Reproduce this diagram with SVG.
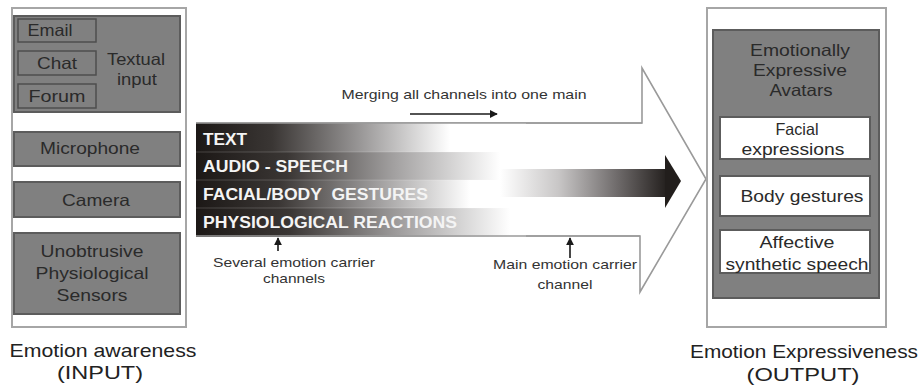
<svg xmlns="http://www.w3.org/2000/svg" width="921" height="387" viewBox="0 0 921 387">
  <defs>
    <linearGradient id="rowFadeA" gradientUnits="userSpaceOnUse" x1="196" y1="0" x2="450" y2="0">
      <stop offset="0" stop-color="#1c1816"/>
      <stop offset="0.3" stop-color="#3a3634"/>
      <stop offset="0.65" stop-color="#9a9898"/>
      <stop offset="1" stop-color="#ffffff"/>
    </linearGradient>
    <linearGradient id="rowFadeB" gradientUnits="userSpaceOnUse" x1="196" y1="0" x2="500" y2="0">
      <stop offset="0" stop-color="#1c1816"/>
      <stop offset="0.3" stop-color="#3a3634"/>
      <stop offset="0.65" stop-color="#a2a0a0"/>
      <stop offset="1" stop-color="#ffffff"/>
    </linearGradient>
    <linearGradient id="rowFadeC" gradientUnits="userSpaceOnUse" x1="196" y1="0" x2="470" y2="0">
      <stop offset="0" stop-color="#1c1816"/>
      <stop offset="0.3" stop-color="#3a3634"/>
      <stop offset="0.65" stop-color="#9c9a9a"/>
      <stop offset="1" stop-color="#ffffff"/>
    </linearGradient>
    <linearGradient id="rowFadeD" gradientUnits="userSpaceOnUse" x1="196" y1="0" x2="510" y2="0">
      <stop offset="0" stop-color="#1c1816"/>
      <stop offset="0.3" stop-color="#3a3634"/>
      <stop offset="0.65" stop-color="#a09e9e"/>
      <stop offset="1" stop-color="#ffffff"/>
    </linearGradient>
    <linearGradient id="mergeFade" gradientUnits="userSpaceOnUse" x1="500" y1="0" x2="668" y2="0">
      <stop offset="0" stop-color="#ffffff"/>
      <stop offset="0.35" stop-color="#c8c6c6"/>
      <stop offset="0.7" stop-color="#6e6a6a"/>
      <stop offset="1" stop-color="#221e1c"/>
    </linearGradient>
    <marker id="tip" viewBox="0 0 10 10" refX="9" refY="5" markerWidth="8" markerHeight="8" markerUnits="userSpaceOnUse" orient="auto">
      <path d="M0,0 L10,5 L0,10 Z" fill="#1a1a1a"/>
    </marker>
    <style>
      .panel { fill: #ffffff; stroke: #a6a6a6; stroke-width: 2; }
      .grey { fill: #808080; stroke: #5c5c5c; stroke-width: 2; }
      .sub { fill: #808080; stroke: #4e4e4e; stroke-width: 1.5; }
      .whitebox { fill: #ffffff; stroke: #5c5c5c; stroke-width: 2; }
      text { font-family: "Liberation Sans", Arial, sans-serif; }
      .lbl { font-size: 16.5px; fill: #2a2a2a; text-anchor: middle; }
      .ch { font-weight: bold; font-size: 16px; fill: #f4f4f4; }
      .note { font-size: 13.5px; fill: #333333; text-anchor: middle; }
      .cap { font-size: 19px; fill: #222222; text-anchor: middle; }
      .conn { stroke: #1a1a1a; stroke-width: 1.6; fill: none; }
    </style>
  </defs>

  <!-- input side -->
  <g id="input-panel">
    <rect class="panel" x="12" y="8" width="174" height="319"/>
  </g>
  <g id="textual-input">
    <rect class="grey" x="14" y="16" width="166" height="96"/>
    <text class="lbl" x="136" y="65" textLength="58" lengthAdjust="spacingAndGlyphs">Textual</text>
    <text class="lbl" x="137" y="85" textLength="40" lengthAdjust="spacingAndGlyphs">input</text>
  </g>
  <g id="email">
    <rect class="sub" x="18" y="19" width="78" height="23"/>
    <text class="lbl" x="50" y="36" textLength="45" lengthAdjust="spacingAndGlyphs">Email</text>
  </g>
  <g id="chat">
    <rect class="sub" x="18" y="51" width="78" height="24"/>
    <text class="lbl" x="57" y="69" textLength="40" lengthAdjust="spacingAndGlyphs">Chat</text>
  </g>
  <g id="forum">
    <rect class="sub" x="18" y="84" width="78" height="24"/>
    <text class="lbl" x="57" y="102" textLength="57" lengthAdjust="spacingAndGlyphs">Forum</text>
  </g>
  <g id="microphone">
    <rect class="grey" x="14" y="132" width="166" height="34"/>
    <text class="lbl" x="90" y="154" textLength="100" lengthAdjust="spacingAndGlyphs">Microphone</text>
  </g>
  <g id="camera">
    <rect class="grey" x="14" y="182" width="166" height="35"/>
    <text class="lbl" x="96" y="206" textLength="68" lengthAdjust="spacingAndGlyphs">Camera</text>
  </g>
  <g id="sensors">
    <rect class="grey" x="14" y="233" width="166" height="81"/>
    <text class="lbl" x="92" y="257" textLength="103" lengthAdjust="spacingAndGlyphs">Unobtrusive</text>
    <text class="lbl" x="92" y="279" textLength="113" lengthAdjust="spacingAndGlyphs">Physiological</text>
    <text class="lbl" x="92" y="301" textLength="71" lengthAdjust="spacingAndGlyphs">Sensors</text>
  </g>
  <g id="input-caption">
    <text class="cap" x="103" y="357" textLength="187" lengthAdjust="spacingAndGlyphs">Emotion awareness</text>
    <text class="cap" x="100" y="379" textLength="86" lengthAdjust="spacingAndGlyphs">(INPUT)</text>
  </g>

  <!-- channel merge in the middle -->
  <g id="merge-outline">
    <path d="M196,123 L642,123 L642,68 L706,179 L640,292 L640,236 L196,236" fill="#ffffff" stroke="#9a9a9a" stroke-width="1.6" stroke-linejoin="miter"/>
  </g>
  <g id="channels">
    <rect x="196" y="123" width="330" height="29" fill="url(#rowFadeA)"/>
    <rect x="196" y="152" width="330" height="28" fill="url(#rowFadeB)"/>
    <rect x="196" y="180" width="330" height="28" fill="url(#rowFadeC)"/>
    <rect x="196" y="208" width="330" height="29" fill="url(#rowFadeD)"/>
    <g stroke="#ffffff" stroke-opacity="0.12" stroke-width="1.5">
      <line x1="196" y1="152" x2="526" y2="152"/>
      <line x1="196" y1="180" x2="526" y2="180"/>
      <line x1="196" y1="208" x2="526" y2="208"/>
    </g>
    <line x1="196" y1="123" x2="642" y2="123" stroke="#9a9a9a" stroke-width="1.6"/>
    <line x1="196" y1="236" x2="640" y2="236" stroke="#9a9a9a" stroke-width="1.6"/>
    <text class="ch" x="203" y="145" textLength="44" lengthAdjust="spacingAndGlyphs">TEXT</text>
    <text class="ch" x="203" y="172" textLength="145" lengthAdjust="spacingAndGlyphs">AUDIO - SPEECH</text>
    <text class="ch" x="203" y="200" textLength="225" lengthAdjust="spacingAndGlyphs" xml:space="preserve">FACIAL/BODY  GESTURES</text>
    <text class="ch" x="203" y="228" textLength="254" lengthAdjust="spacingAndGlyphs">PHYSIOLOGICAL REACTIONS</text>
  </g>
  <g id="main-channel">
    <rect x="500" y="169" width="166" height="28" fill="url(#mergeFade)"/>
    <path d="M665,155 L681,181 L665,208 Z" fill="#221e1c"/>
  </g>

  <!-- annotations -->
  <g id="connectors">
    <line class="conn" x1="410" y1="114" x2="497" y2="114" marker-end="url(#tip)"/>
    <line class="conn" x1="278" y1="251" x2="278" y2="238" marker-end="url(#tip)"/>
    <line class="conn" x1="570" y1="258" x2="570" y2="238" marker-end="url(#tip)"/>
  </g>
  <g id="annotations">
    <text class="note" x="464" y="99" textLength="245" lengthAdjust="spacingAndGlyphs">Merging all channels into one main</text>
    <text class="note" x="294" y="267" textLength="162" lengthAdjust="spacingAndGlyphs">Several emotion carrier</text>
    <text class="note" x="294" y="283" textLength="62" lengthAdjust="spacingAndGlyphs">channels</text>
    <text class="note" x="565" y="269" textLength="144" lengthAdjust="spacingAndGlyphs">Main emotion carrier</text>
    <text class="note" x="565" y="289" textLength="55" lengthAdjust="spacingAndGlyphs">channel</text>
  </g>

  <!-- output side -->
  <g id="output-panel">
    <rect class="panel" x="707" y="8" width="179" height="319"/>
  </g>
  <g id="avatars">
    <rect class="grey" x="713" y="30" width="166" height="268"/>
    <text class="lbl" x="800" y="56" textLength="100" lengthAdjust="spacingAndGlyphs">Emotionally</text>
    <text class="lbl" x="800" y="76" textLength="94" lengthAdjust="spacingAndGlyphs">Expressive</text>
    <text class="lbl" x="801" y="96" textLength="63" lengthAdjust="spacingAndGlyphs">Avatars</text>
  </g>
  <g id="facial-expressions">
    <rect class="whitebox" x="720" y="117" width="150" height="42"/>
    <text class="lbl" x="797" y="135" textLength="43" lengthAdjust="spacingAndGlyphs">Facial</text>
    <text class="lbl" x="793" y="155" textLength="103" lengthAdjust="spacingAndGlyphs">expressions</text>
  </g>
  <g id="body-gestures">
    <rect class="whitebox" x="720" y="176" width="150" height="40"/>
    <text class="lbl" x="802" y="202" textLength="123" lengthAdjust="spacingAndGlyphs">Body gestures</text>
  </g>
  <g id="affective-speech">
    <rect class="whitebox" x="720" y="230" width="150" height="43"/>
    <text class="lbl" x="797" y="248" textLength="75" lengthAdjust="spacingAndGlyphs">Affective</text>
    <text class="lbl" x="797" y="270" textLength="143" lengthAdjust="spacingAndGlyphs">synthetic speech</text>
  </g>
  <g id="output-caption">
    <text class="cap" x="804" y="358" textLength="228" lengthAdjust="spacingAndGlyphs">Emotion Expressiveness</text>
    <text class="cap" x="803" y="381" textLength="113" lengthAdjust="spacingAndGlyphs">(OUTPUT)</text>
  </g>
</svg>
